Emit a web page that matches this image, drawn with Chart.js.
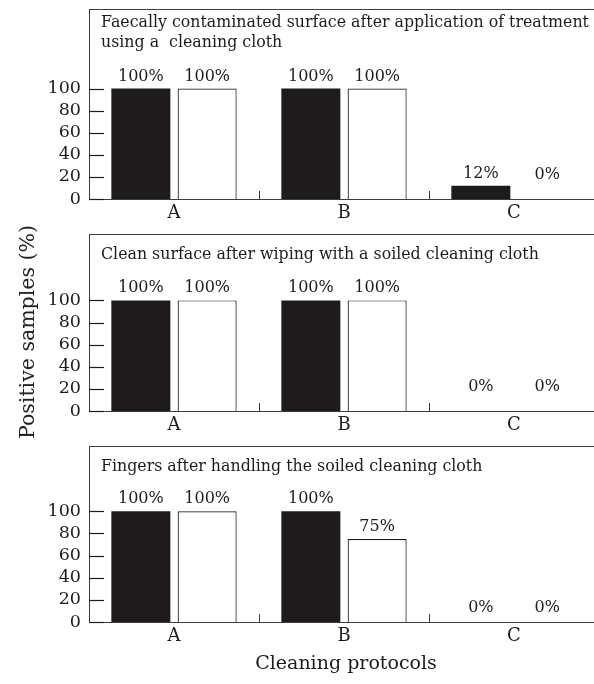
<!DOCTYPE html>
<html><head><meta charset="utf-8">
<script src="https://cdn.jsdelivr.net/npm/chart.js@4.4.1/dist/chart.umd.min.js"></script>
<style>
html,body{margin:0;padding:0;background:#fff;}
body{width:594px;height:684px;overflow:hidden;position:relative;font-family:"DejaVu Serif",serif;color:#1f1b1c;}
.panel{position:absolute;left:0;width:600px;}
#ytitle{position:absolute;left:27px;top:332px;transform:translate(-50%,-50%) rotate(-90deg);font-size:20.5px;white-space:nowrap;}
#xtitle{position:absolute;left:346px;top:662px;transform:translate(-50%,-50%);font-size:19px;white-space:nowrap;}
</style></head><body>
<div class="panel" style="top:0px;height:228px"><canvas id="c0"></canvas></div>
<div class="panel" style="top:225px;height:215px"><canvas id="c1"></canvas></div>
<div class="panel" style="top:437px;height:214px"><canvas id="c2"></canvas></div>
<div id="ytitle">Positive samples (%)</div>
<div id="xtitle">Cleaning protocols</div>
<script>
// ---- data ----
const categories = ['A', 'B', 'C'];
const yTicks = [0, 20, 40, 60, 80, 100];
const panelTitles = [
  ['Faecally contaminated surface after application of treatment', 'using a  cleaning cloth'],
  ['Clean surface after wiping with a soiled cleaning cloth'],
  ['Fingers after handling the soiled cleaning cloth']
];
const surfaceBlack = [100, 100, 12];
const surfaceWhite = [100, 100, 0];
const cleanBlack = [100, 100, 0];
const cleanWhite = [100, 100, 0];
const fingersBlack = [100, 100, 0];
const fingersWhite = [100, 75, 0];

// ---- styles ----
const INK = '#1f1b1c';
const AXIS = '#3c3c3c';
const FONT = '"DejaVu Serif", serif';
const panels = [
  {id: 'c0', black: surfaceBlack, white: surfaceWhite, title: panelTitles[0], padTop: 9, xH: 29, yMax: 172, titleY: 14, zeroLift: 12},
  {id: 'c1', black: cleanBlack, white: cleanWhite, title: panelTitles[1], padTop: 9, xH: 29, yMax: 160, titleY: 21, zeroLift: 12},
  {id: 'c2', black: fingersBlack, white: fingersWhite, title: panelTitles[2], padTop: 9, xH: 29, yMax: 159, titleY: 21, zeroLift: 2}
];

const decorPlugin = {
  id: 'decor',
  afterDatasetsDraw(chart, args, opts) {
    const {ctx, chartArea: a, scales: {x, y}} = chart;
    ctx.save();
    // top border of panel box
    ctx.strokeStyle = AXIS; ctx.lineWidth = 1;
    ctx.beginPath(); ctx.moveTo(a.left, a.top + 0.5); ctx.lineTo(a.right + 10, a.top + 0.5); ctx.stroke();
    // inward y ticks
    ctx.strokeStyle = INK; ctx.lineWidth = 1.2;
    yTicks.forEach(v => {
      const py = Math.round(y.getPixelForValue(v)) + 0.5;
      ctx.beginPath(); ctx.moveTo(a.left, py); ctx.lineTo(a.left + 15, py); ctx.stroke();
    });
    // category separators
    ctx.strokeStyle = AXIS; ctx.lineWidth = 1;
    for (let i = 1; i < categories.length; i++) {
      const px = Math.round((x.getPixelForValue(i - 1) + x.getPixelForValue(i)) / 2) + 0.5;
      ctx.beginPath(); ctx.moveTo(px, a.bottom); ctx.lineTo(px, a.bottom - 8); ctx.stroke();
    }
    // panel title
    ctx.fillStyle = INK; ctx.font = '15.8px ' + FONT;
    ctx.textAlign = 'left'; ctx.textBaseline = 'middle';
    opts.title.forEach((line, i) => ctx.fillText(line, a.left + 12, a.top + opts.titleY + i * 20));
    // value labels
    ctx.font = '16px ' + FONT;
    ctx.textAlign = 'center'; ctx.textBaseline = 'alphabetic';
    chart.data.datasets.forEach((ds, di) => {
      chart.getDatasetMeta(di).data.forEach((bar, i) => {
        const v = ds.data[i];
        const lift = v === 0 ? opts.zeroLift : 0;
        ctx.fillText(v + '%', bar.x, bar.y - 8 - lift);
      });
    });
    ctx.restore();
  }
};

panels.forEach(p => {
  new Chart(document.getElementById(p.id), {
    type: 'bar',
    data: {
      labels: categories,
      datasets: [
        {label: 'Black', data: p.black, backgroundColor: INK, borderWidth: 0},
        {label: 'White', data: p.white, backgroundColor: '#ffffff', borderColor: INK, borderWidth: 1.2}
      ]
    },
    options: {
      responsive: true, maintainAspectRatio: false, animation: false,
      categoryPercentage: 0.78, barPercentage: 0.89,
      layout: {padding: {top: p.padTop, right: 1, left: 0, bottom: 0}},
      plugins: {legend: {display: false}, tooltip: {enabled: false},
        decor: {title: p.title, titleY: p.titleY, zeroLift: p.zeroLift}},
      scales: {
        x: {
          grid: {display: false, drawTicks: false},
          border: {display: true, color: AXIS, width: 1},
          ticks: {color: INK, font: {family: FONT, size: 18}, padding: 4},
          afterFit(s) { s.height = p.xH; s.paddingLeft = 0; s.paddingRight = 0; }
        },
        y: {
          min: 0, max: p.yMax,
          grid: {display: false, drawTicks: false},
          border: {display: true, color: AXIS, width: 1},
          ticks: {color: INK, font: {family: FONT, size: 17.5, lineHeight: 1}, padding: 8},
          afterBuildTicks(s) { s.ticks = yTicks.map(v => ({value: v})); },
          afterFit(s) { s.width = 89; s.paddingTop = 0; s.paddingBottom = 0; }
        }
      }
    },
    plugins: [decorPlugin]
  });
});
</script>
</body></html>
